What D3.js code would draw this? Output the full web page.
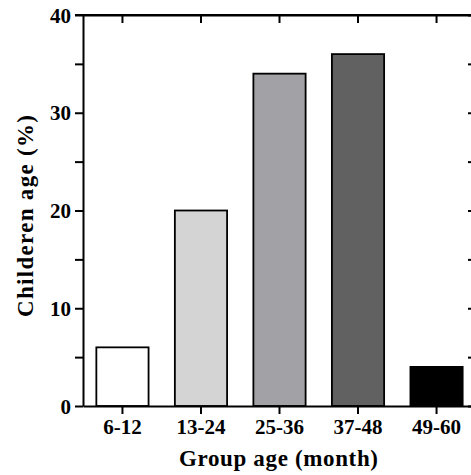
<!DOCTYPE html>
<html><head><meta charset="utf-8">
<script src="https://cdn.jsdelivr.net/npm/d3@7"></script>
<style>body{margin:0;background:#fff}svg{display:block}</style>
</head><body><svg id="c" width="471" height="475"></svg>
<script>
const categories = ["6-12","13-24","25-36","37-48","49-60"];
const values = [6,20,34,36,4];
const colors = ["#ffffff","#d4d4d4","#a2a1a5","#616161","#000000"];
const yTicks = [0,10,20,30,40];
const yMinor = [5,15,25,35];

const FONT = "'Liberation Serif', 'Times New Roman', Times, serif";
const svg = d3.select("#c");
const x = d3.scaleBand().domain(categories).range([83,476]).paddingInner(0.335).paddingOuter(0.17);
const y = d3.scaleLinear().domain([0,40]).range([406,15]);

svg.selectAll("rect.bar").data(values).join("rect").attr("class","bar")
  .attr("x",(d,i)=>x(categories[i])).attr("width",x.bandwidth())
  .attr("y",d=>y(d)).attr("height",d=>y(0)-y(d))
  .attr("fill",(d,i)=>colors[i]).attr("stroke","#000").attr("stroke-width",1.8);

// left
const gl = svg.append("g").attr("transform","translate(83,0)")
  .call(d3.axisLeft(y).tickValues(yTicks).tickSize(8).tickSizeOuter(0).tickPadding(4));
gl.selectAll("text").attr("font-size",21).attr("fill","#000").attr("dy","0.34em");
svg.append("g").attr("transform","translate(83,0)")
  .call(d3.axisLeft(y).tickValues(yMinor).tickSize(8).tickFormat("")).select(".domain").remove();
// bottom
const gb = svg.append("g").attr("transform","translate(0,406)")
  .call(d3.axisBottom(x).tickSize(8).tickSizeOuter(0).tickPadding(0));
gb.selectAll("text").attr("font-size",21).attr("fill","#000").attr("dy",null).attr("y",28);
// top
svg.append("g").attr("transform","translate(0,15)")
  .call(d3.axisBottom(x).tickSize(8).tickSizeOuter(0).tickFormat(""));
svg.append("line").attr("x1",75).attr("x2",476).attr("y1",15).attr("y2",15);
// right
svg.append("g").attr("transform","translate(476,0)")
  .call(d3.axisLeft(y).tickValues(yTicks.concat(yMinor)).tickSize(8).tickSizeOuter(0).tickFormat(""));
svg.selectAll("g").attr("font-family",null);
svg.selectAll("g path, line").attr("stroke","#000").attr("stroke-width",2);

svg.append("text").attr("x",278.5).attr("y",466).attr("text-anchor","middle")
  .attr("font-size",23).attr("textLength",199).attr("lengthAdjust","spacing").text("Group age (month)");
svg.append("text").attr("transform","translate(33,216) rotate(-90)").attr("text-anchor","middle")
  .attr("font-size",23).attr("textLength",202).attr("lengthAdjust","spacing").text("Childeren age (%)");
svg.selectAll("text").style("font-family",FONT).style("font-weight","bold");
</script></body></html>
